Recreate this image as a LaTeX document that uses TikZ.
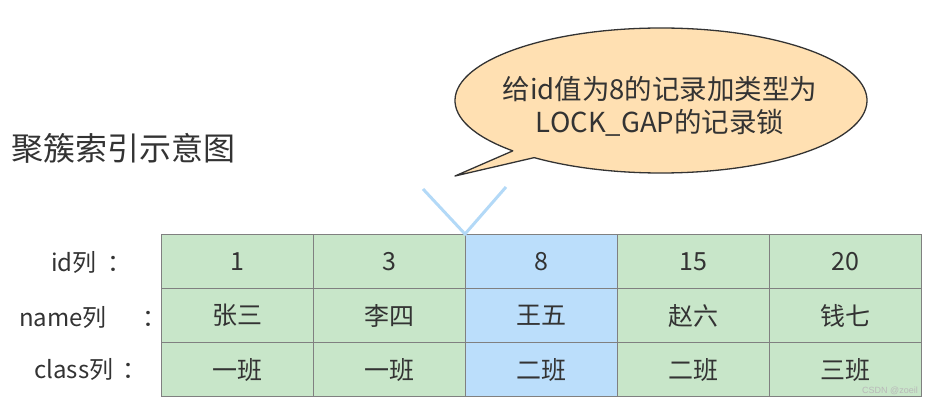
\documentclass[tikz,border=0pt]{standalone}
\usepackage{fontspec}
\setmainfont{Noto Sans CJK SC}
\newfontfamily\wmfont{Liberation Sans}
\usetikzlibrary{positioning}
\definecolor{cellgreen}{RGB}{200,230,201}
\definecolor{cellblue}{RGB}{187,222,251}
\definecolor{cellborder}{RGB}{128,128,128}
\definecolor{bubblefill}{RGB}{255,224,178}
\definecolor{bubbleline}{RGB}{51,51,51}
\definecolor{txt}{RGB}{51,51,51}
\definecolor{vline}{RGB}{179,217,247}
\tikzset{
  cell/.style={draw=cellborder, line width=1.2pt, fill=cellgreen, minimum width=152pt, minimum height=54pt, inner sep=0pt, anchor=north west, text=txt, font=\fontsize{25}{29}\selectfont},
  hicell/.style={cell, fill=cellblue},
  rowlabel/.style={text=txt, font=\fontsize{24}{28}\selectfont, inner sep=0pt, anchor=west},
}
\begin{document}
\begin{tikzpicture}[x=1pt,y=-1pt]
\useasboundingbox (0,0) rectangle (933,406);
% title
\node[text=txt, font=\fontsize{32}{36}\selectfont, inner sep=0pt, anchor=west] (title) at (11,148) {聚簇索引示意图};
% bubble shape
\path[draw=bubbleline, line width=1.3pt, fill=bubblefill, line join=round]
  (661,100.5) ++(136:206 and 72.5) arc[start angle=136, end angle=488, x radius=206, y radius=72.5]
  -- (455,176) -- cycle;
\node[text=txt, align=center, font=\fontsize{27.5}{33}\selectfont, inner sep=0pt] (bubble) at (660,106) {给id值为8的记录加类型为\\LOCK\_GAP的记录锁};
% table
\node[cell] (c11) at (161,234) {1};
\node[cell] (c21) at (313,234) {3};
\node[hicell] (c31) at (465,234) {8};
\node[cell] (c41) at (617,234) {15};
\node[cell] (c51) at (769,234) {20};
\node[cell] (c12) at (161,288) {张三};
\node[cell] (c22) at (313,288) {李四};
\node[hicell] (c32) at (465,288) {王五};
\node[cell] (c42) at (617,288) {赵六};
\node[cell] (c52) at (769,288) {钱七};
\node[cell] (c13) at (161,342) {一班};
\node[cell] (c23) at (313,342) {一班};
\node[hicell] (c33) at (465,342) {二班};
\node[cell] (c43) at (617,342) {二班};
\node[cell] (c53) at (769,342) {三班};
% row labels
\node[rowlabel] (lid) at (51,262) {id列\hspace{0.45em}：};
\node[rowlabel] (lname) at (19,317) {name列\hspace{1.5em}：};
\node[rowlabel] (lclass) at (34,369) {class列\hspace{0.4em}：};
% V marker
\coordinate (vl) at (423,189);
\coordinate (vr) at (506,187);
\draw[vline, line width=3pt] (vl) -- (c31.north west) -- (vr);
% watermark
\node[text=gray!55, font=\wmfont\fontsize{9}{10}\selectfont, inner sep=0pt, anchor=east] (wm) at (918,391) {CSDN @zoeil};
\end{tikzpicture}
\end{document}
